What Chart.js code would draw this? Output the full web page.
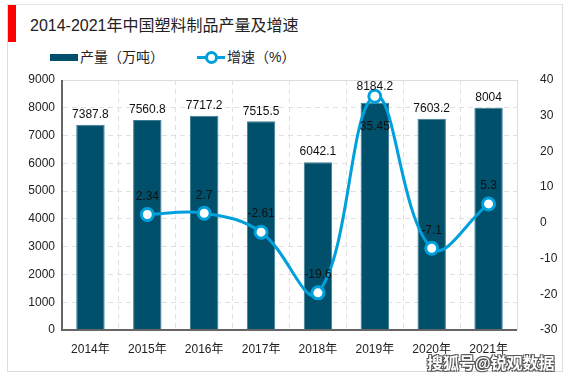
<!DOCTYPE html>
<html>
<head>
<meta charset="utf-8">
<script src="https://cdn.jsdelivr.net/npm/chart.js@4"></script>
<style>
  body { margin: 0; background: #fff; font-family: "Liberation Sans", "Noto Sans CJK SC", sans-serif; }
  #wrap { position: relative; width: 567px; height: 378px; overflow: hidden; }
  #frame { position: absolute; left: 7px; top: 4px; width: 556px; height: 368px; border-left: 1px solid #ddd; border-top: 1px solid #e4e4e4; border-right: 1px solid #ddd; border-bottom: 1px solid #ddd; box-sizing: border-box; }
  #redbar { position: absolute; left: 8px; top: 5px; width: 8px; height: 37px; background: #f00; }
  #title { position: absolute; left: 30px; top: 12px; font-size: 16px; color: #222; }
  .leg { position: absolute; top: 49px; font-size: 14px; color: #222; line-height: 16px; }
  #legBar { position: absolute; left: 50px; top: 54px; width: 28px; height: 7px; background: #00506b; }
  #legLine { position: absolute; left: 197px; top: 56px; width: 28px; height: 3px; background: #00a0dc; }
  #legDot { position: absolute; left: 205px; top: 51px; width: 7px; height: 7px; border: 3px solid #00a0dc; border-radius: 50%; background: #fff; }
  #wm { position: absolute; left: 427px; top: 350px; font-size: 16px; font-weight: bold; color: #fff;
        text-shadow: -1px -1px 0 #555, 1px -1px 0 #555, -1px 1px 0 #555, 1px 1px 0 #555; }
  canvas { position: absolute; left: 0; top: 0; }
</style>
</head>
<body>
<div id="wrap">
  <div id="frame"></div>
  <div id="redbar"></div>
  <div id="title">2014-2021年中国塑料制品产量及增速</div>
  <div id="legBar"></div>
  <div class="leg" style="left:80px">产量（万吨）</div>
  <div id="legLine"></div>
  <div id="legDot"></div>
  <div class="leg" style="left:227px">增速（%）</div>
  <canvas id="c" width="567" height="378"></canvas>
  <div id="wm">搜狐号@锐观数据</div>
</div>
<script>
// categories and series
const years = ['2014年', '2015年', '2016年', '2017年', '2018年', '2019年', '2020年', '2021年'];
const output = [7387.8, 7560.8, 7717.2, 7515.5, 6042.1, 8184.2, 7603.2, 8004];
const growth = [null, 2.34, 2.7, -2.61, -19.6, 35.45, -7.1, 5.3];
const growthLabels = [null, '2.34', '2.7', '-2.61', '-19.6', '35.45', '-7.1', '5.3'];

// label offsets (dy) for the growth values; 35.45 sits below its point
const growthDy = [0, -18, -18, -18, -18, 30, -18, -18];
const barDy = [-10, -10, -10, -10, -10, -16, -10, -10];

const labelPlugin = {
    id: 'labels',
    afterDatasetsDraw(chart) {
        const ctx = chart.ctx;
        ctx.save();
        ctx.font = '12px "Liberation Sans", sans-serif';
        ctx.fillStyle = '#111';
        ctx.textAlign = 'center';
        ctx.textBaseline = 'middle';
        chart.getDatasetMeta(1).data.forEach((bar, i) => {
            ctx.fillText(String(output[i]), bar.x, bar.y + barDy[i]);
        });
        chart.getDatasetMeta(0).data.forEach((pt, i) => {
            if (growth[i] === null) return;
            ctx.fillText(growthLabels[i], pt.x, pt.y + growthDy[i]);
        });
        ctx.restore();
    },
    beforeDatasetsDraw(chart) {
        const ctx = chart.ctx;
        const a = chart.chartArea;
        ctx.save();
        ctx.strokeStyle = '#ddd';
        ctx.lineWidth = 1;
        ctx.beginPath();
        ctx.moveTo(a.left, a.top + 0.5);
        ctx.lineTo(a.right + 0.5, a.top + 0.5);
        ctx.lineTo(a.right + 0.5, a.bottom);
        ctx.stroke();
        ctx.restore();
    },
    afterDraw(chart) {
        const ctx = chart.ctx;
        const a = chart.chartArea;
        ctx.save();
        ctx.strokeStyle = '#666';
        ctx.lineWidth = 2;
        ctx.beginPath();
        ctx.moveTo(a.left, a.top);
        ctx.lineTo(a.left, a.bottom);
        ctx.lineTo(a.right, a.bottom);
        ctx.stroke();
        ctx.restore();
    }
};

const plain = v => String(v);

new Chart(document.getElementById('c'), {
    data: {
        labels: years,
        datasets: [{
            type: 'line',
            label: '增速（%）',
            data: growth,
            yAxisID: 'y1',
            borderColor: '#00a0dc',
            borderWidth: 3,
            tension: 0.4,
            pointRadius: 6,
            pointBorderWidth: 3,
            pointBackgroundColor: '#fff',
            pointBorderColor: '#00a0dc',
            order: 0
        }, {
            type: 'bar',
            label: '产量（万吨）',
            data: output,
            yAxisID: 'y',
            backgroundColor: '#00506b',
            borderColor: '#3d7d92',
            borderWidth: { top: 1, left: 1, right: 1, bottom: 0 },
            barPercentage: 0.5,
            categoryPercentage: 1,
            order: 1
        }]
    },
    options: {
        responsive: false,
        animation: false,
        layout: { padding: { top: 80, left: 0, right: 0, bottom: 0 } },
        plugins: { legend: { display: false }, tooltip: { enabled: false } },
        scales: {
            x: {
                offset: true,
                grid: { display: true, offset: true, color: '#e0e0e0', drawTicks: false },
                border: { display: true, color: 'rgba(0,0,0,0)', dash: [5, 4] },
                ticks: { color: '#222', padding: 12, font: { size: 12, family: '"Liberation Sans", "Noto Sans CJK SC"' } },
                afterFit(s) { s.height = 48; }
            },
            y: {
                position: 'left',
                min: 0, max: 9000,
                ticks: { stepSize: 1000, color: '#222', padding: 7, callback: plain, font: { size: 12, family: '"Liberation Sans"' } },
                grid: { color: '#e0e0e0', drawTicks: false },
                border: { display: true, color: 'rgba(0,0,0,0)', dash: [5, 4] },
                afterFit(s) { s.width = 62; }
            },
            y1: {
                position: 'right',
                min: -30, max: 40,
                ticks: { stepSize: 10, color: '#222', padding: 15, callback: plain, font: { size: 12, family: '"Liberation Sans"' } },
                grid: { display: false },
                border: { display: false },
                afterFit(s) { s.width = 50; }
            }
        }
    },
    plugins: [labelPlugin]
});
</script>
</body>
</html>
